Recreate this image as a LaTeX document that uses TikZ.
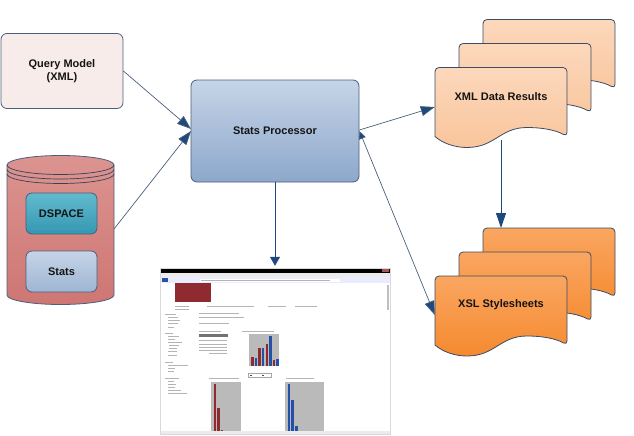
\documentclass[tikz,border=0pt]{standalone}
\usepackage{fontspec}
\setmainfont{Liberation Sans}
\usetikzlibrary{arrows.meta}

\definecolor{linkblue}{HTML}{1F497D}
\definecolor{edgeblue}{HTML}{4A5F7C}
\definecolor{procTop}{HTML}{C6D4E7}
\definecolor{procBot}{HTML}{8DA8CB}
\definecolor{queryFill}{HTML}{F8ECEA}
\definecolor{dspaceTop}{HTML}{62BACD}
\definecolor{dspaceBot}{HTML}{3498B2}
\definecolor{xmlTop}{HTML}{FCD8BC}
\definecolor{xmlBot}{HTML}{F9C59C}
\definecolor{xslTop}{HTML}{FAA661}
\definecolor{xslBot}{HTML}{F58A2F}
\definecolor{dbTop}{HTML}{DC9490}
\definecolor{dbBot}{HTML}{CE7673}
\definecolor{barRed}{HTML}{8E2A30}
\definecolor{barBlue}{HTML}{2450A8}
\definecolor{webGray}{HTML}{B4B4B4}

\tikzset{
  label text/.style={font=\fontsize{11}{13}\selectfont\bfseries, text=black!92, align=center},
  card/.style={draw=edgeblue, line width=0.8pt, rounded corners=6pt},
  link/.style={draw=edgeblue, line width=0.7pt, -{Triangle[length=14pt,width=10pt,fill=linkblue]}},
  twolink/.style={draw=edgeblue, line width=0.7pt, {Triangle[length=8pt,width=7pt,fill=linkblue]}-{Triangle[length=14pt,width=10pt,fill=linkblue]}},
  downlink/.style={draw=linkblue, line width=1pt, -{Triangle[length=15pt,width=10pt,fill=linkblue]}},
  docpage/.style={draw=edgeblue!80!black, line width=0.8pt},
  webline/.style={fill=webGray}
}

% One wavy page, (#1,#2) is its top left corner
\newcommand{\wavepage}[4]{%
  \draw[docpage, top color=#3, bottom color=#4]
    ([shift={(#1,#2)}]0,69)
    [rounded corners=4pt] -- ([shift={(#1,#2)}]0,0) -- ([shift={(#1,#2)}]132,0) -- ([shift={(#1,#2)}]132,69)
    [sharp corners] .. controls ([shift={(#1,#2)}]120,62) and ([shift={(#1,#2)}]105,60) .. ([shift={(#1,#2)}]92,60)
    .. controls ([shift={(#1,#2)}]65,60) and ([shift={(#1,#2)}]60,80) .. ([shift={(#1,#2)}]32,80)
    .. controls ([shift={(#1,#2)}]20,80) and ([shift={(#1,#2)}]8,76) .. ([shift={(#1,#2)}]0,69) -- cycle;
}

\begin{document}
\begin{tikzpicture}[x=1pt, y=-1pt]
    \useasboundingbox (0,0) rectangle (634,436);

    % Query model and processor
    \node[card, fill=queryFill, minimum width=122pt, minimum height=75pt, label text]
      (query) at (62,71) {Query Model\\(XML)};
    \node[card, top color=procTop, bottom color=procBot, minimum width=168pt, minimum height=102pt, label text]
      (proc) at (275,131) {Stats Processor};

    % Database cylinder
    \draw[edgeblue, line width=0.8pt, top color=dbTop, bottom color=dbBot]
      (7,165) -- (7,295) arc[start angle=180, end angle=360, x radius=53.5pt, y radius=9.5pt]
      -- (114,165) arc[start angle=0, end angle=180, x radius=53.5pt, y radius=9.5pt] -- cycle;
    \foreach \r in {0,4.5,9} {
      \draw[edgeblue!70!black, line width=0.7pt] (7,165+\r) arc[start angle=180, end angle=360, x radius=53.5pt, y radius=9.5pt];
    }
    \coordinate (dbside) at (114,229);
    \node[card, top color=dspaceTop, bottom color=dspaceBot, minimum width=71pt, minimum height=41pt, label text]
      (dspace) at (61.5,213.5) {DSPACE};
    \node[card, top color=procTop, bottom color=procBot!85!white, minimum width=71pt, minimum height=41pt, label text]
      (stats) at (61.5,271.5) {Stats};

    % Page stacks (back to front)
    \foreach \dx/\dy in {48/-48, 24/-24, 0/0} {
      \wavepage{435+\dx}{67.5+\dy}{xmlTop}{xmlBot}
      \wavepage{435+\dx}{276+\dy}{xslTop}{xslBot}
    }
    \node[label text, minimum width=132pt, minimum height=60pt] (xml) at (501,97) {XML Data Results};
    \node[label text, minimum width=132pt, minimum height=60pt] (xsl) at (501,305) {XSL Stylesheets};
    \coordinate (xslback) at (501,228);
    \coordinate (xmlfoot) at (501,140);

    % Browser screenshot
    \node[draw=black!15, fill=white, minimum width=230pt, minimum height=166pt, inner sep=0pt] (shot) at (275,351) {};
    \fill[black] (160.5,268.5) rectangle (389.5,273);
    \fill[barRed!80!white] (382,269) rectangle (389,272);
    \fill[black!8] (160.5,273) rectangle (389.5,277);
    \fill[blue!8] (160.5,277) rectangle (389.5,283);
    \fill[white] (200,278.5) rectangle (340,281.5);
    \fill[webGray] (201,279.5) rectangle (330,280.5);
    \fill[barBlue] (162,278) rectangle (168,282);
    \fill[barRed] (175,283) rectangle (211,302);
    \fill[black!25] (387,285) rectangle (389,310);

    % Web page text as grey rules
    \foreach \lx/\ly/\lw in {
      165/314/11, 168/317/10, 168/320/12, 168/323/10, 168/327/6,
      165/333/8, 168/336/11, 168/339/7, 168/342/14, 169/345/10, 169/348/8, 168/351/9, 168/355/9,
      165/362/8, 168/365/20, 168/368/7, 168/371/6,
      165/378/14, 168/381/6, 168/384/8, 168/387/7, 168/390/13, 168/393/19,
      175/306/14, 175/309/14, 207/306/28, 234/306/20, 268/306/18, 295/306/22,
      199/313/40, 199/317/45, 199/323/30, 199/331/22, 242/331/32,
      199/340/28, 199/344/28, 199/347/28, 199/350/28, 209/353/18,
      209/378/30, 286/378/28} {
      \fill[webline] (\lx,\ly) rectangle ++(\lw,1.3);
    }
    \fill[black!55] (199,333.5) rectangle (228,337);

    % Charts
    \foreach \cx/\cy/\cw/\ch in {249/334/30/32, 211/382/30/49, 285/382/39/49} {
      \fill[black!27] (\cx,\cy) rectangle ++(\cw,\ch);
    }
    \foreach \bx/\bt/\bc in {
      251/357/barRed, 254.5/358/barBlue, 258/348/barRed, 261.5/348/barBlue,
      265.5/344/barRed, 269/336/barBlue, 272.5/360/barRed, 276/359/barBlue} {
      \fill[\bc] (\bx,\bt) rectangle (\bx+2.5,366);
    }
    \foreach \bx/\bt/\bc in {
      213.5/384/barRed, 217/408/barRed, 220.5/430/barRed,
      287.5/384/barBlue, 291/400/barBlue, 295/426/barBlue} {
      \fill[\bc] (\bx,\bt) rectangle (\bx+2.8,431);
    }
    \draw[black!35, line width=0.3pt] (248,373.5) rectangle (271,377);
    \fill[barRed] (250,374.5) rectangle (252,376);
    \fill[barBlue] (262,374.5) rectangle (264,376);
    \fill[black!8] (160.5,430.5) rectangle (389.5,433.5);

    % Connectors
    \draw[link] (query.east |- 0,71) -- (191,129);
    \draw[link] (dbside) -- (191,131);
    \draw[link] (proc.east |- 0,130) -- (xml.west |- 0,107);
    \draw[twolink] (proc.east |- 0,131) -- (xsl.west |- 0,315);
    \draw[downlink, -{Triangle[length=9pt,width=10pt,fill=linkblue]}, shorten >=2pt] (proc.south) -- (shot.north);
    \draw[downlink] (xmlfoot) -- (xslback);
\end{tikzpicture}
\end{document}
